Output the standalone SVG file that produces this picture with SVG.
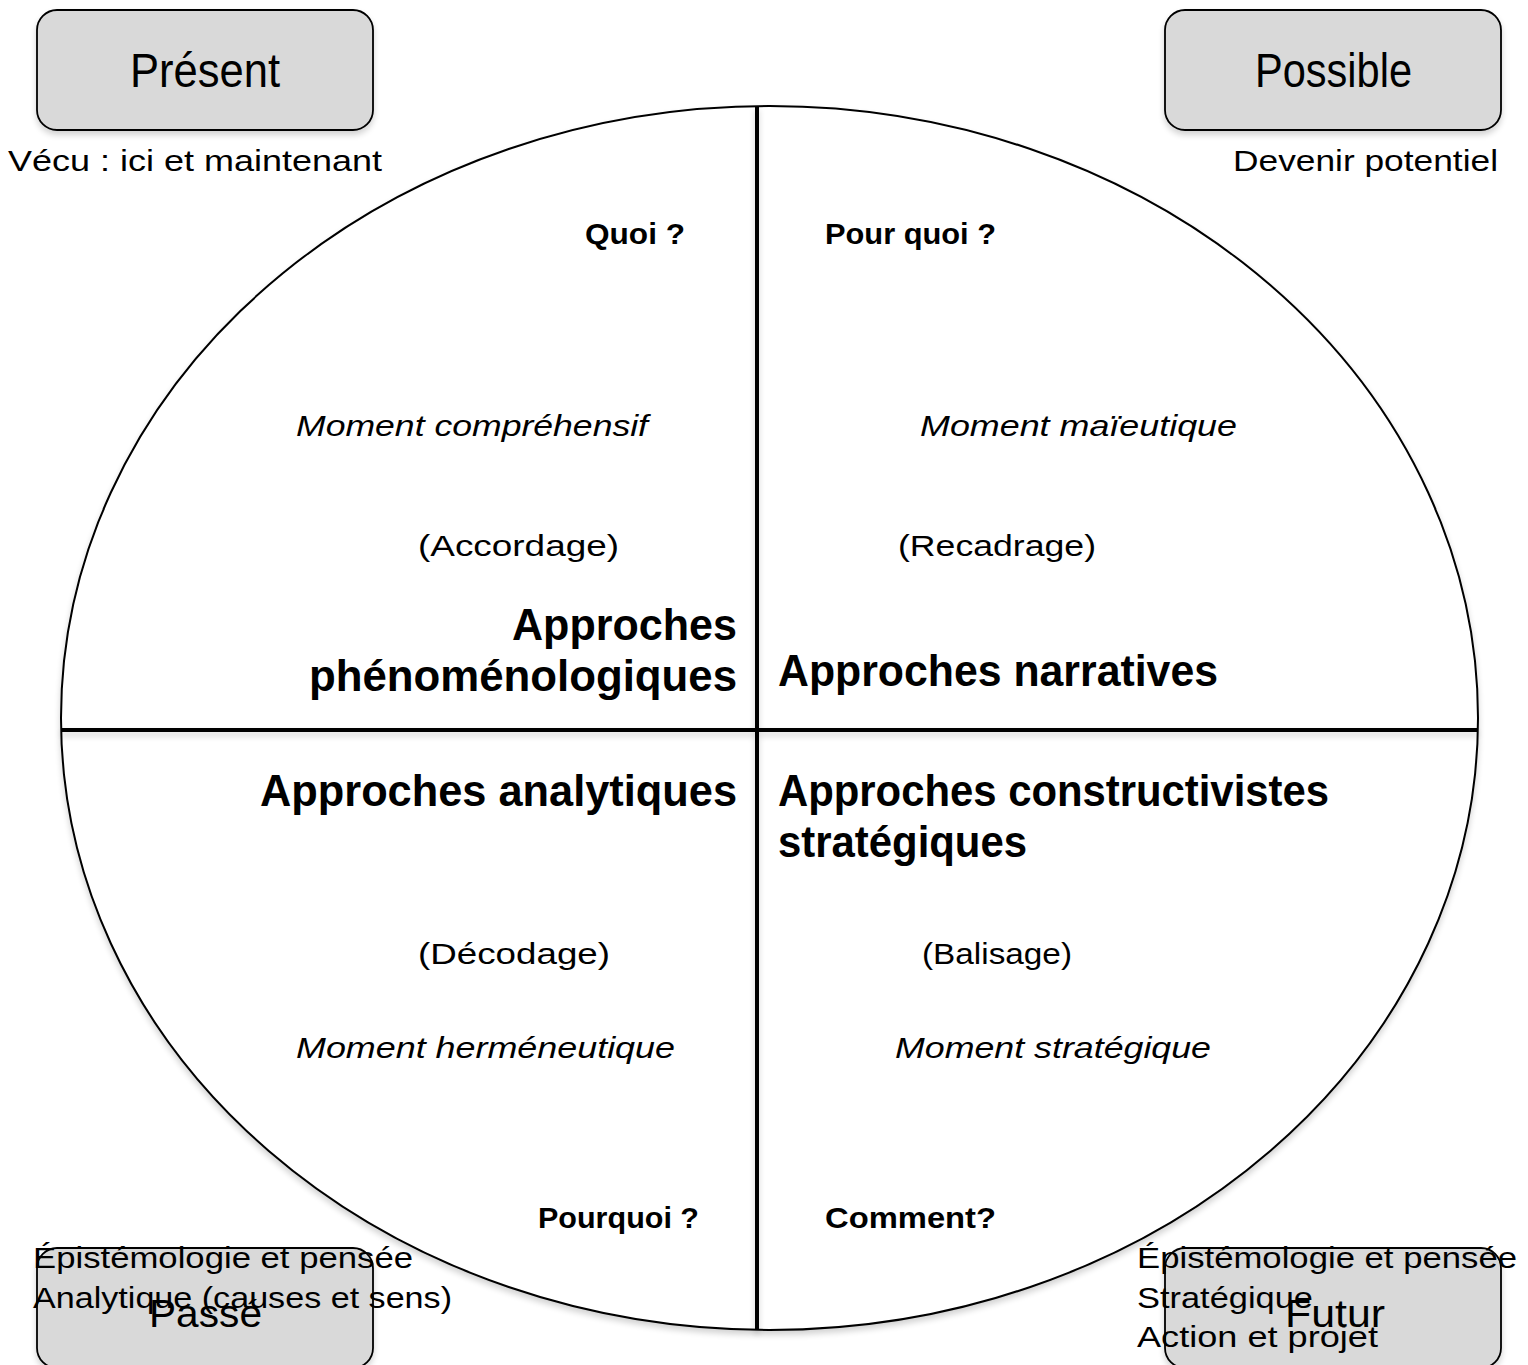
<svg xmlns="http://www.w3.org/2000/svg" width="1528" height="1365" viewBox="0 0 1528 1365">
<defs>
<filter id="sh" x="-10%" y="-10%" width="120%" height="125%">
<feGaussianBlur in="SourceAlpha" stdDeviation="3"/>
<feOffset dx="0" dy="4" result="b"/>
<feComponentTransfer><feFuncA type="linear" slope="0.18"/></feComponentTransfer>
<feMerge><feMergeNode/><feMergeNode in="SourceGraphic"/></feMerge>
</filter>
<style>
text{font-family:"Liberation Sans",Arial,sans-serif;fill:#000}
.box{fill:#d9d9d9;stroke:#000;stroke-width:1.8}
.lbl{font-size:48px}
.lbl2{font-size:38px}
.t{font-size:30px}
.it{font-size:30px;font-style:italic}
.q{font-size:30px;font-weight:bold}
.h{font-size:44px;font-weight:bold}
.ax{stroke:#000;stroke-width:4;fill:none}
</style>
</defs>
<rect width="1528" height="1365" fill="#fff"/>

<g id="cycle" filter="url(#sh)">
<ellipse cx="769.5" cy="718" rx="708.5" ry="612" fill="#fff" stroke="#000" stroke-width="2"/>
</g>
<g id="connectors" filter="url(#sh)">
<line class="ax" x1="757" y1="106" x2="757" y2="1330"/>
<line class="ax" x1="61" y1="730" x2="1478" y2="730"/>
</g>

<g id="present">
<rect class="box" x="37" y="10" width="336" height="120" rx="20" filter="url(#sh)"/>
<text class="lbl" x="130" y="87" textLength="150" lengthAdjust="spacingAndGlyphs">Présent</text>
<text class="t" x="8" y="171" textLength="374" lengthAdjust="spacingAndGlyphs">Vécu : ici et maintenant</text>
</g>

<g id="possible">
<rect class="box" x="1165" y="10" width="336" height="120" rx="20" filter="url(#sh)"/>
<text class="lbl" x="1255" y="87" textLength="157" lengthAdjust="spacingAndGlyphs">Possible</text>
<text class="t" x="1233" y="171" textLength="265" lengthAdjust="spacingAndGlyphs">Devenir potentiel</text>
</g>

<g id="q-phenomeno">
<text class="q" x="585" y="244" textLength="100" lengthAdjust="spacingAndGlyphs">Quoi ?</text>
<text class="it" x="296" y="436" textLength="352" lengthAdjust="spacingAndGlyphs">Moment compréhensif</text>
<text class="t" x="418" y="556" textLength="201" lengthAdjust="spacingAndGlyphs">(Accordage)</text>
<text class="h" x="512" y="640" textLength="225" lengthAdjust="spacingAndGlyphs">Approches</text>
<text class="h" x="309" y="691" textLength="428" lengthAdjust="spacingAndGlyphs">phénoménologiques</text>
</g>

<g id="q-narratives">
<text class="q" x="825" y="244" textLength="171" lengthAdjust="spacingAndGlyphs">Pour quoi ?</text>
<text class="it" x="920" y="436" textLength="317" lengthAdjust="spacingAndGlyphs">Moment maïeutique</text>
<text class="t" x="898" y="556" textLength="198" lengthAdjust="spacingAndGlyphs">(Recadrage)</text>
<text class="h" x="778" y="686" textLength="440" lengthAdjust="spacingAndGlyphs">Approches narratives</text>
</g>

<g id="q-analytiques">
<text class="h" x="260" y="806" textLength="477" lengthAdjust="spacingAndGlyphs">Approches analytiques</text>
<text class="t" x="418" y="964" textLength="192" lengthAdjust="spacingAndGlyphs">(Décodage)</text>
<text class="it" x="296" y="1058" textLength="379" lengthAdjust="spacingAndGlyphs">Moment herméneutique</text>
<text class="q" x="538" y="1228" textLength="161" lengthAdjust="spacingAndGlyphs">Pourquoi ?</text>
</g>

<g id="q-constructivistes">
<text class="h" x="778" y="806" textLength="551" lengthAdjust="spacingAndGlyphs">Approches constructivistes</text>
<text class="h" x="778" y="857" textLength="249" lengthAdjust="spacingAndGlyphs">stratégiques</text>
<text class="t" x="922" y="964" textLength="150" lengthAdjust="spacingAndGlyphs">(Balisage)</text>
<text class="it" x="895" y="1058" textLength="316" lengthAdjust="spacingAndGlyphs">Moment stratégique</text>
<text class="q" x="825" y="1228" textLength="171" lengthAdjust="spacingAndGlyphs">Comment?</text>
</g>

<g id="passe">
<rect class="box" x="37" y="1248" width="336" height="120" rx="20" filter="url(#sh)"/>
<text class="t" x="33" y="1268" textLength="380" lengthAdjust="spacingAndGlyphs">Épistémologie et pensée</text>
<text class="t" x="33" y="1308" textLength="419" lengthAdjust="spacingAndGlyphs">Analytique (causes et sens)</text>
<text class="lbl2" x="149" y="1327" textLength="113" lengthAdjust="spacingAndGlyphs">Passé</text>
</g>

<g id="futur">
<rect class="box" x="1165" y="1248" width="336" height="120" rx="20" filter="url(#sh)"/>
<text class="t" x="1137" y="1268" textLength="380" lengthAdjust="spacingAndGlyphs">Épistémologie et pensée</text>
<text class="t" x="1137" y="1308" textLength="176" lengthAdjust="spacingAndGlyphs">Stratégique</text>
<text class="t" x="1137" y="1347" textLength="241" lengthAdjust="spacingAndGlyphs">Action et projet</text>
<text class="lbl2" x="1285" y="1327" textLength="100" lengthAdjust="spacingAndGlyphs">Futur</text>
</g>
</svg>
